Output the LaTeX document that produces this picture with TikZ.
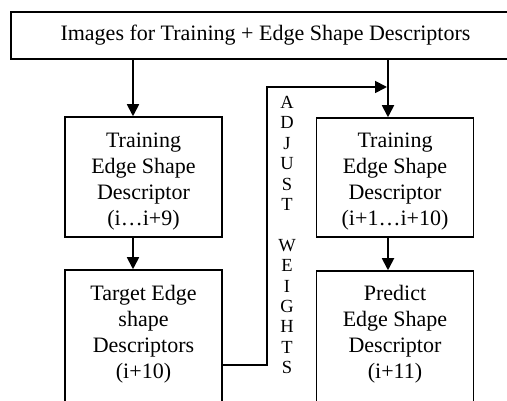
\documentclass[tikz,border=0pt]{standalone}
\usepackage{fontspec}
\setmainfont{Liberation Serif}
\usetikzlibrary{arrows.meta}
\begin{document}
\begin{tikzpicture}[x=1pt,y=-1pt,
 box/.style={draw,line width=1.5pt,rectangle,inner sep=0pt,minimum width=157pt},
 txt/.style={align=center,font=\fontsize{22}{26}\selectfont,inner sep=0pt},
 vtxt/.style={align=center,font=\fontsize{18.5}{20.4}\selectfont,inner sep=0pt},
 arr/.style={line width=1.8pt,-{Triangle[length=12pt,width=12pt]}}]
\clip (0,0) rectangle (507,401);
\useasboundingbox (0,0) rectangle (507,401);
\fill[white] (0,0) rectangle (507,401);
\node[box,txt,minimum width=509pt,minimum height=47pt] (top) at (265.5,35.5) {Images for Training + Edge Shape Descriptors};
\node[box,minimum height=120pt] (lb1) at (143.5,177) {};
\node[txt] (lb1t) at (143.5,181.5) {Training\\Edge Shape\\Descriptor\\(i\dots i+9)};
\node[box,minimum height=160pt] (lb2) at (143.5,350) {};
\node[txt] (lb2t) at (143.5,334) {Target Edge\\shape\\Descriptors\\(i+10)};
\node[box,minimum height=119pt] (rb1) at (395,177.5) {};
\node[txt] (rb1t) at (395,181.5) {Training\\Edge Shape\\Descriptor\\(i+1\dots i+10)};
\node[box,minimum height=160pt] (rb2) at (395,351) {};
\node[txt] (rb2t) at (395,334) {Predict\\Edge Shape\\Descriptor\\(i+11)};
\node[vtxt] (adj) at (287,235) {A\\D\\J\\U\\S\\T\\[20.4pt]W\\E\\I\\G\\H\\T\\S};
\coordinate (lx) at (133,0);
\coordinate (rx) at (388,0);
\draw[arr] (lx |- top.south) -- (lx |- lb1.north);
\draw[arr] (lx |- lb1.south) -- (lx |- lb2.north);
\draw[arr] (rx |- top.south) -- (rx |- rb1.north);
\draw[arr] (rx |- rb1.south) -- (rx |- rb2.north);
\coordinate (fbs) at (0,365);
\coordinate (fbc) at (267,87);
\draw[arr,shorten >=1pt] (lb2.east |- fbs) -| (fbc) -- (rx |- fbc);
\end{tikzpicture}
\end{document}
